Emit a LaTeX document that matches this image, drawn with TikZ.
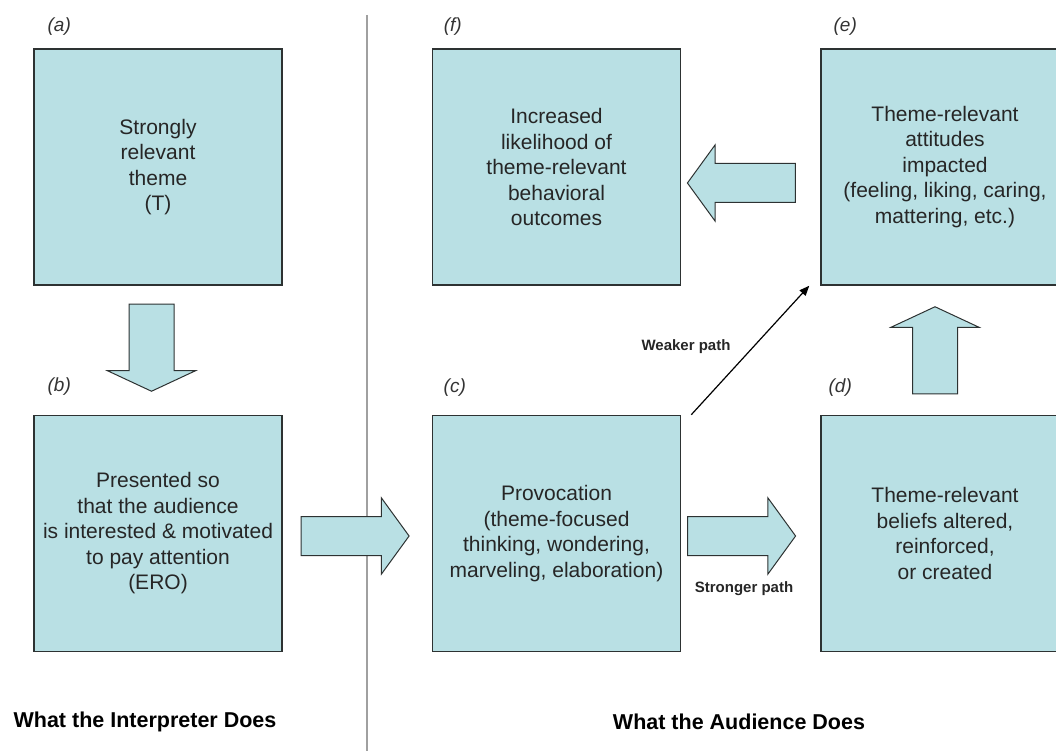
\documentclass[tikz,border=0pt]{standalone}
\usepackage{fontspec}
\setmainfont{Liberation Sans}
\usetikzlibrary{positioning,shapes.arrows,arrows.meta}
\definecolor{boxfill}{RGB}{185,224,228}
\definecolor{boxline}{RGB}{45,50,50}
\definecolor{divider}{RGB}{160,160,160}

\begin{document}
\begin{tikzpicture}[x=1pt,y=-1pt,
    stage/.style={rectangle, draw=boxline, line width=1.5pt, fill=boxfill,
        minimum width=248pt, minimum height=236pt, inner sep=0pt,
        align=center, text=black!85, font=\fontsize{21}{25.5}\selectfont},
    tag/.style={font=\fontsize{19}{22}\selectfont\itshape, text=black!80},
    flowh/.style={single arrow, draw=boxline, line width=1pt, fill=boxfill,
        minimum height=108pt, minimum width=75pt, inner xsep=0pt, inner ysep=19pt,
        single arrow head extend=18.5pt, single arrow tip angle=108},
    flowv/.style={single arrow, draw=boxline, line width=1pt, fill=boxfill,
        minimum height=87pt, minimum width=87pt, inner xsep=22pt, inner ysep=0pt,
        single arrow head extend=21.5pt, single arrow tip angle=130},
    pathnote/.style={font=\fontsize{15}{18}\selectfont\bfseries, text=black!85},
    heading/.style={font=\fontsize{21.5}{24}\selectfont\bfseries}
]
\clip (0,0) rectangle (1056,751);

% divider between the two halves
\coordinate (DivTop) at (367,15);
\coordinate (DivBot) at (367,751);
\draw[divider, line width=1.5pt] (DivTop) -- (DivBot);

% stages
\node (Theme) [stage] at (158,167) {Strongly\\relevant\\theme\\(T)};
\node (Present) [stage, below=129pt of Theme] {Presented so\\that the audience\\is interested \& motivated\\to pay attention\\(ERO)};
\node (Provoke) [stage, right=149pt of Present] {Provocation\\(theme-focused\\thinking, wondering,\\marveling, elaboration)};
\node (Beliefs) [stage, right=139pt of Provoke] {Theme-relevant\\beliefs altered,\\reinforced,\\or created};
\node (Attitudes) [stage, above=129pt of Beliefs] {Theme-relevant\\attitudes\\impacted\\(feeling, liking, caring,\\mattering, etc.)};
\node (Outcome) [stage, above=129pt of Provoke] {Increased\\likelihood of\\theme-relevant\\behavioral\\outcomes};

% stage tags
\node (TagA) [tag] at ([xshift=26pt,yshift=22pt]Theme.north west) {(a)};
\node (TagB) [tag] at ([xshift=26pt,yshift=28pt]Present.north west) {(b)};
\node (TagC) [tag] at ([xshift=23pt,yshift=27pt]Provoke.north west) {(c)};
\node (TagD) [tag] at ([xshift=20pt,yshift=27pt]Beliefs.north west) {(d)};
\node (TagE) [tag] at ([xshift=25pt,yshift=22pt]Attitudes.north west) {(e)};
\node (TagF) [tag] at ([xshift=21pt,yshift=22pt]Outcome.north west) {(f)};

% block arrows
\node (FlowAB) [flowv, shape border rotate=270] at (151.5,342.5) {};
\node (FlowBC) [flowh] at (348,536) {};
\node (FlowCD) [flowh] at (734.5,536) {};
\node (FlowDE) [flowv, shape border rotate=90] at (935,355.5) {};
\node (FlowEF) [flowh, shape border rotate=180] at (748.5,183) {};

% weaker path
\draw[line width=1.2pt, -{Triangle[length=10pt,width=8pt]}]
    ([xshift=10pt]Provoke.north east) -- ([xshift=-11pt]Attitudes.south west);
\node (Weak) [pathnote] at (686,347) {Weaker path};
\node (Strong) [pathnote] at (744,589) {Stronger path};

% headings
\node (HeadLeft) [heading] at (145,722) {What the Interpreter Does};
\node (HeadRight) [heading] at (739,722) {What the Audience Does};
\end{tikzpicture}
\end{document}
